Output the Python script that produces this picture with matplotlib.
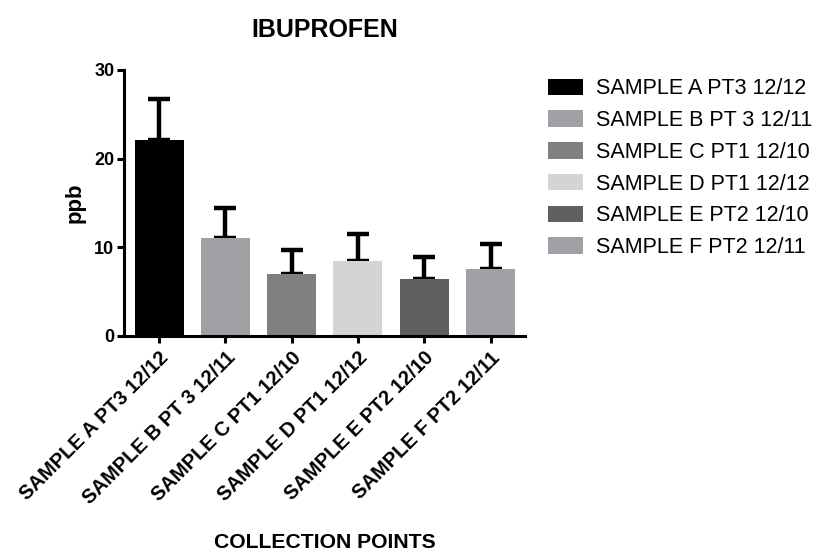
import matplotlib
matplotlib.use("Agg")
import matplotlib.pyplot as plt
import matplotlib.patches as mpatches

categories = ["SAMPLE A PT3 12/12", "SAMPLE B PT 3 12/11", "SAMPLE C PT1 12/10",
              "SAMPLE D PT1 12/12", "SAMPLE E PT2 12/10", "SAMPLE F PT2 12/11"]
values = [22.1, 11.0, 6.95, 8.45, 6.4, 7.5]
errors = [4.6, 3.45, 2.7, 3.0, 2.5, 2.8]
colors = ["#000000", "#a0a0a4", "#808080", "#d4d4d4", "#606060", "#a0a0a4"]
yticks = [0, 10, 20, 30]

plt.rcParams['font.family'] = ['Liberation Sans', 'DejaVu Sans']

fig = plt.figure(figsize=(8.16, 5.53), dpi=100)
ax = fig.add_axes([124/816, 1-335.7/553, (525-124)/816, (335.7-70)/553])

x = list(range(len(categories)))
ax.bar(x, values, width=0.74, color=colors, zorder=2)
ax.errorbar(x, values, yerr=[[0]*len(errors), errors], fmt='none', ecolor='black',
            elinewidth=3.2, capsize=8, capthick=3.2, zorder=1)

ax.set_xlim(-0.53, 5.52)
ax.set_ylim(0, 30)
ax.set_yticks(yticks)
ax.set_yticklabels([str(t) for t in yticks], fontsize=13, fontweight='bold')
ax.set_xticks(x)
ax.set_xticklabels(categories, rotation=45, ha='right', rotation_mode='anchor',
                   fontsize=14.5, fontweight='bold')
for s in ['top', 'right']:
    ax.spines[s].set_visible(False)
for s in ['left', 'bottom']:
    ax.spines[s].set_linewidth(2.2)
ax.tick_params(axis='both', width=2.2, length=5, direction='out')
ax.tick_params(axis='y', pad=2)
ax.tick_params(axis='x', pad=4)

ax.set_ylabel("ppb", fontsize=16, fontweight='bold', labelpad=6)
ax.set_title("IBUPROFEN", fontsize=18, fontweight='bold', pad=24)
fig.text(324.5/816, 1-543/553, "COLLECTION POINTS", ha='center', va='center',
         fontsize=15.2, fontweight='bold')

handles = [mpatches.Patch(facecolor=c, edgecolor='none') for c in colors]
leg = fig.legend(handles, categories, loc='upper left', bbox_to_anchor=(544/816, 1-74/553),
                 frameon=False, fontsize=15.5, handlelength=1.6, handleheight=0.8,
                 labelspacing=0.5, handletextpad=0.62, borderaxespad=0, borderpad=0.2)

fig.savefig("out.png", dpi=100)
